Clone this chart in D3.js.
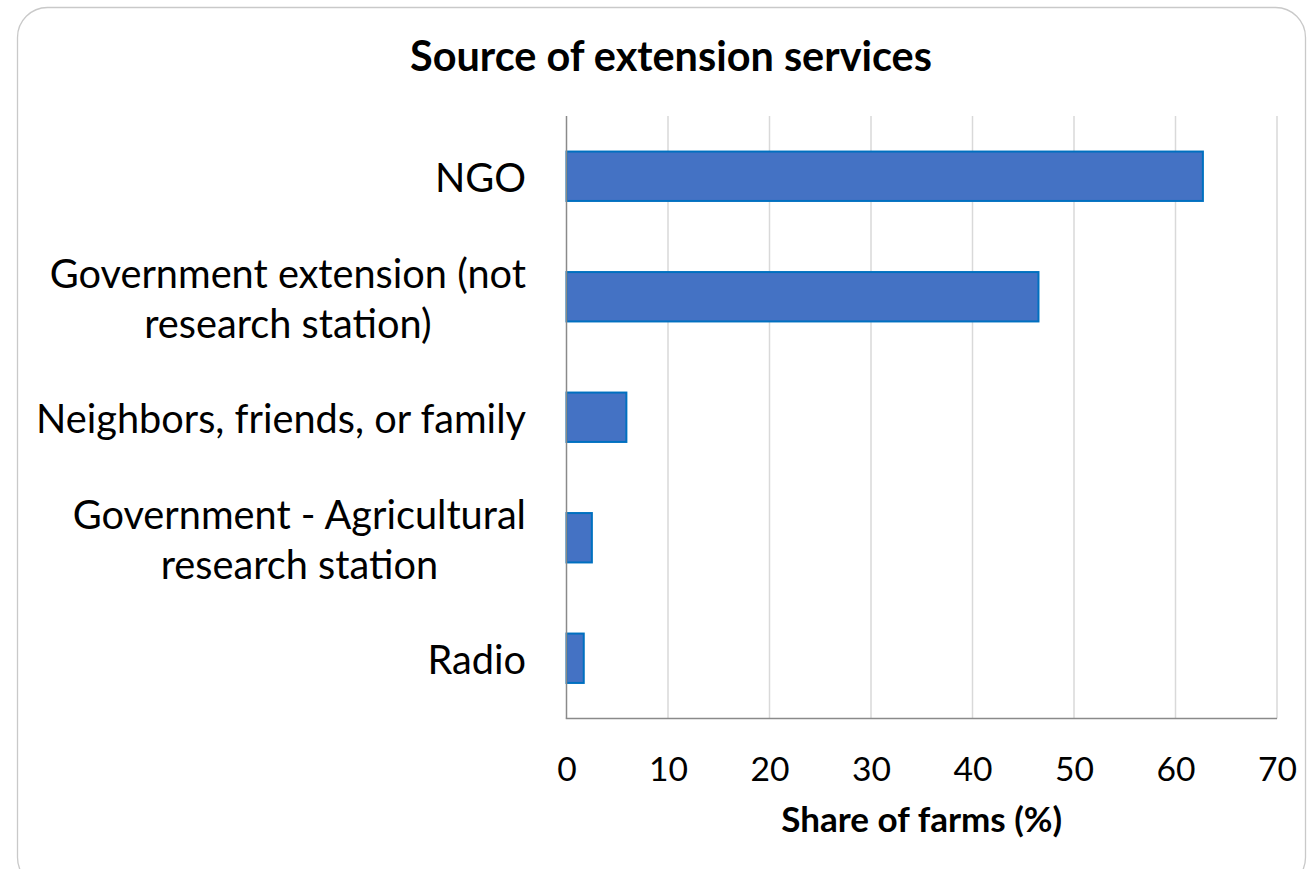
<!DOCTYPE html>
<html>
<head>
<meta charset="utf-8">
<script src="https://cdn.jsdelivr.net/npm/d3@7"></script>
<style>
  html, body { margin: 0; padding: 0; background: #ffffff; }
  svg { display: block; }
  text { font-family: Lato, "Open Sans", sans-serif; fill: #000; }
</style>
</head>
<body>
<svg id="chart" width="1309" height="869"></svg>
<script>
// ---- data ----
const chartTitle = "Source of extension services";
const xAxisTitle = "Share of farms (%)";
const categories = [
  "NGO",
  "Government extension (not\nresearch station)",
  "Neighbors, friends, or family",
  "Government - Agricultural\nresearch station",
  "Radio"
];
const shares = [62.7, 46.5, 5.9, 2.5, 1.7];
const xTicks = [0, 10, 20, 30, 40, 50, 60, 70];

// ---- layout ----
const svg = d3.select("#chart");
const plot = { left: 566.5, right: 1277, top: 116, bottom: 718.5 };
const labelRight = 526;

function fitSize(str, weight, target) {
  const t = svg.append("text").attr("font-size", 100).attr("font-weight", weight).text(str);
  const w = t.node().getComputedTextLength();
  t.remove();
  return 100 * target / w;
}
const regSize = fitSize("Neighbors, friends, or family", 400, 490);
const tickSize = fitSize("70", 400, 39);
const titleSize = fitSize(chartTitle, 700, 522);
const axTitleSize = fitSize(xAxisTitle, 700, 281);

// frame
svg.append("rect")
  .attr("x", 17.5).attr("y", 7.5)
  .attr("width", 1288).attr("height", 880)
  .attr("rx", 30).attr("ry", 30)
  .attr("fill", "#fff").attr("stroke", "#c9c9c9").attr("stroke-width", 1.3);

const x = d3.scaleLinear().domain([0, 70]).range([plot.left, plot.right]);
const y = d3.scaleBand().domain(categories).range([plot.top, plot.bottom])
  .paddingInner(0.59).paddingOuter(0.295);

// gridlines
svg.append("g").selectAll("line")
  .data(xTicks.filter(d => d > 0))
  .join("line")
  .attr("x1", d => x(d)).attr("x2", d => x(d))
  .attr("y1", plot.top).attr("y2", plot.bottom)
  .attr("stroke", "#d9d9d9").attr("stroke-width", 1.5);

// bars
svg.append("g").selectAll("rect")
  .data(categories)
  .join("rect")
  .attr("x", x(0))
  .attr("y", d => y(d))
  .attr("width", (d, i) => x(shares[i]) - x(0))
  .attr("height", y.bandwidth())
  .attr("fill", "#4472C4")
  .attr("stroke", "#0070C0")
  .attr("stroke-width", 2);

// axes lines
svg.append("line")
  .attr("x1", x(0)).attr("x2", x(0))
  .attr("y1", plot.top).attr("y2", plot.bottom)
  .attr("stroke", "#8a8a8a").attr("stroke-width", 1.5);
svg.append("line")
  .attr("x1", x(0) - 0.75).attr("x2", plot.right)
  .attr("y1", plot.bottom).attr("y2", plot.bottom)
  .attr("stroke", "#8a8a8a").attr("stroke-width", 1.5);

// x tick labels
const xAxis = d3.axisBottom(x).tickValues(xTicks).tickSize(0).tickPadding(0);
const gx = svg.append("g").attr("transform", `translate(0,${plot.bottom})`).call(xAxis);
gx.select(".domain").remove();
gx.selectAll("text")
  .attr("font-family", "Lato, sans-serif")
  .attr("font-size", tickSize)
  .attr("fill", "#000")
  .attr("dy", null)
  .attr("y", 62);

// category labels
const lineGap = 50;
categories.forEach(c => {
  const lines = c.split("\n");
  const cy = y(c) + y.bandwidth() / 2;
  const g = svg.append("text")
    .attr("font-size", regSize)
    .attr("dominant-baseline", "central");
  lines.forEach((ln, i) => {
    g.append("tspan").text(ln)
      .attr("y", cy + (i - (lines.length - 1) / 2) * lineGap);
  });
  if (lines.length === 1) {
    g.attr("text-anchor", "end");
    g.selectAll("tspan").attr("x", labelRight);
  } else {
    let maxW = 0;
    g.selectAll("tspan").each(function () {
      maxW = Math.max(maxW, this.getComputedTextLength());
    });
    g.attr("text-anchor", "middle");
    g.selectAll("tspan").attr("x", labelRight - maxW / 2);
  }
});

// titles
svg.append("text")
  .attr("x", 671).attr("y", 71)
  .attr("text-anchor", "middle")
  .attr("font-weight", 700)
  .attr("font-size", titleSize)
  .text(chartTitle);

svg.append("text")
  .attr("x", (plot.left + plot.right) / 2).attr("y", 832)
  .attr("text-anchor", "middle")
  .attr("font-weight", 700)
  .attr("font-size", axTitleSize)
  .text(xAxisTitle);
</script>
</body>
</html>
